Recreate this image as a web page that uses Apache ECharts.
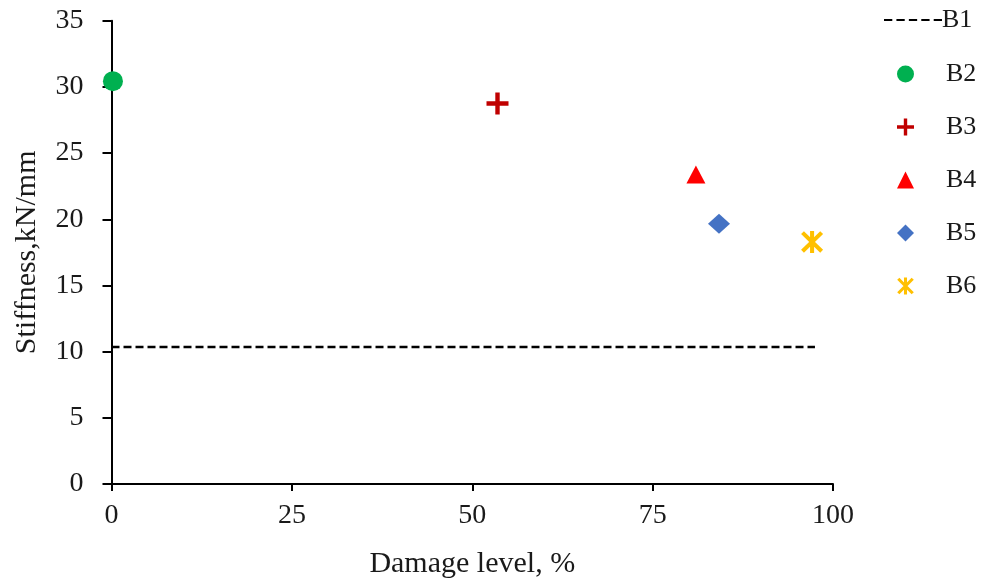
<!DOCTYPE html>
<html><head><meta charset="utf-8">
<script src="https://cdn.jsdelivr.net/npm/echarts@6/dist/echarts.min.js"></script>
<style>html,body{margin:0;padding:0;background:#fff}#c{width:990px;height:584px}</style>
</head><body><div id="c"></div>
<script>
const seriesNames = ['B1','B2','B3','B4','B5','B6'];
const b1Line = [[0, 10.35], [97.5, 10.35]];
const b2 = [[0.2, 30.43]];
const b3 = [[53.5, 28.74]];
const b4 = [[81.0, 23.38]];
const b5 = [[84.2, 19.66]];
const b6 = [[97.1, 18.29]];
const xTicks = {min: 0, max: 100, interval: 25};
const yTicks = {min: 0, max: 35, interval: 5};

const font = 'Liberation Serif';
const txt = '#1a1a1a';
const plusPath = 'path://M4,0h2v4h4v2h-4v4h-2v-4h-4v-2h4z';
const starPath = 'path://M8.2,0L11.8,0L11.8,20L8.2,20Z' +
  'M2.77,0.23L19.77,17.23L17.23,19.77L0.23,2.77Z' +
  'M19.77,2.77L2.77,19.77L0.23,17.23L17.23,0.23Z';
let dash = '';
for (let x = 0; x < 60; x += 12) dash += 'M' + x + ',0h8v2h-8Z';
const dashPath = 'path://' + dash;

const chart = echarts.init(document.getElementById('c'));
chart.setOption({
  animation: false,
  backgroundColor: '#fff',
  grid: {left: 111.5, right: 157, top: 20.7, bottom: 95.7, containLabel: false},
  legend: [
    {orient: 'vertical', left: 879, top: 2, itemWidth: 58, itemHeight: 2.5,
     textStyle: {fontFamily: font, fontSize: 26, color: txt, padding: [0,0,0,-5]},
     data: [{name: 'B1', icon: dashPath, itemStyle: {color: '#000'}}]},
    {orient: 'vertical', left: 892, top: 56, itemWidth: 17, itemHeight: 17, itemGap: 27,
     textStyle: {fontFamily: font, fontSize: 26, color: txt, padding: [0,0,0,27]},
     data: ['B2','B3','B4','B5','B6']}
  ],
  xAxis: {
    type: 'value', min: xTicks.min, max: xTicks.max, interval: xTicks.interval,
    name: 'Damage level, %', nameLocation: 'middle', nameGap: 65,
    nameTextStyle: {fontFamily: font, fontSize: 30, color: txt},
    axisLine: {lineStyle: {color: '#000', width: 2}},
    axisTick: {show: true, length: 7, lineStyle: {color: '#000', width: 2}},
    axisLabel: {fontFamily: font, fontSize: 28, color: txt, margin: 18},
    splitLine: {show: false}
  },
  yAxis: {
    type: 'value', min: yTicks.min, max: yTicks.max, interval: yTicks.interval,
    name: 'Stiffness,kN/mm', nameLocation: 'middle', nameGap: 69, nameRotate: 90,
    nameTextStyle: {fontFamily: font, fontSize: 30, color: txt},
    axisLine: {show: true, lineStyle: {color: '#000', width: 2}},
    axisTick: {show: true, length: 9, lineStyle: {color: '#000', width: 2}},
    axisLabel: {fontFamily: font, fontSize: 28, color: txt, margin: 28},
    splitLine: {show: false}
  },
  series: [
    {name: 'B1', type: 'line', data: b1Line, symbol: 'none', z: 1,
     lineStyle: {color: '#000', width: 2.5, type: [8, 4]}, itemStyle: {color: '#000'}},
    {name: 'B2', type: 'scatter', data: b2, symbol: 'circle', symbolSize: 20,
     itemStyle: {color: '#00b050', opacity: 1}},
    {name: 'B3', type: 'scatter', data: b3, symbol: plusPath, symbolSize: 22,
     itemStyle: {color: '#c00000', opacity: 1}},
    {name: 'B4', type: 'scatter', data: b4, symbol: 'triangle', symbolSize: [19, 18],
     itemStyle: {color: '#ff0000', opacity: 1}},
    {name: 'B5', type: 'scatter', data: b5, symbol: 'diamond', symbolSize: [22, 20],
     itemStyle: {color: '#4472c4', opacity: 1}},
    {name: 'B6', type: 'scatter', data: b6, symbol: starPath, symbolSize: 22,
     itemStyle: {color: '#ffc000', opacity: 1}}
  ]
});
</script></body></html>
